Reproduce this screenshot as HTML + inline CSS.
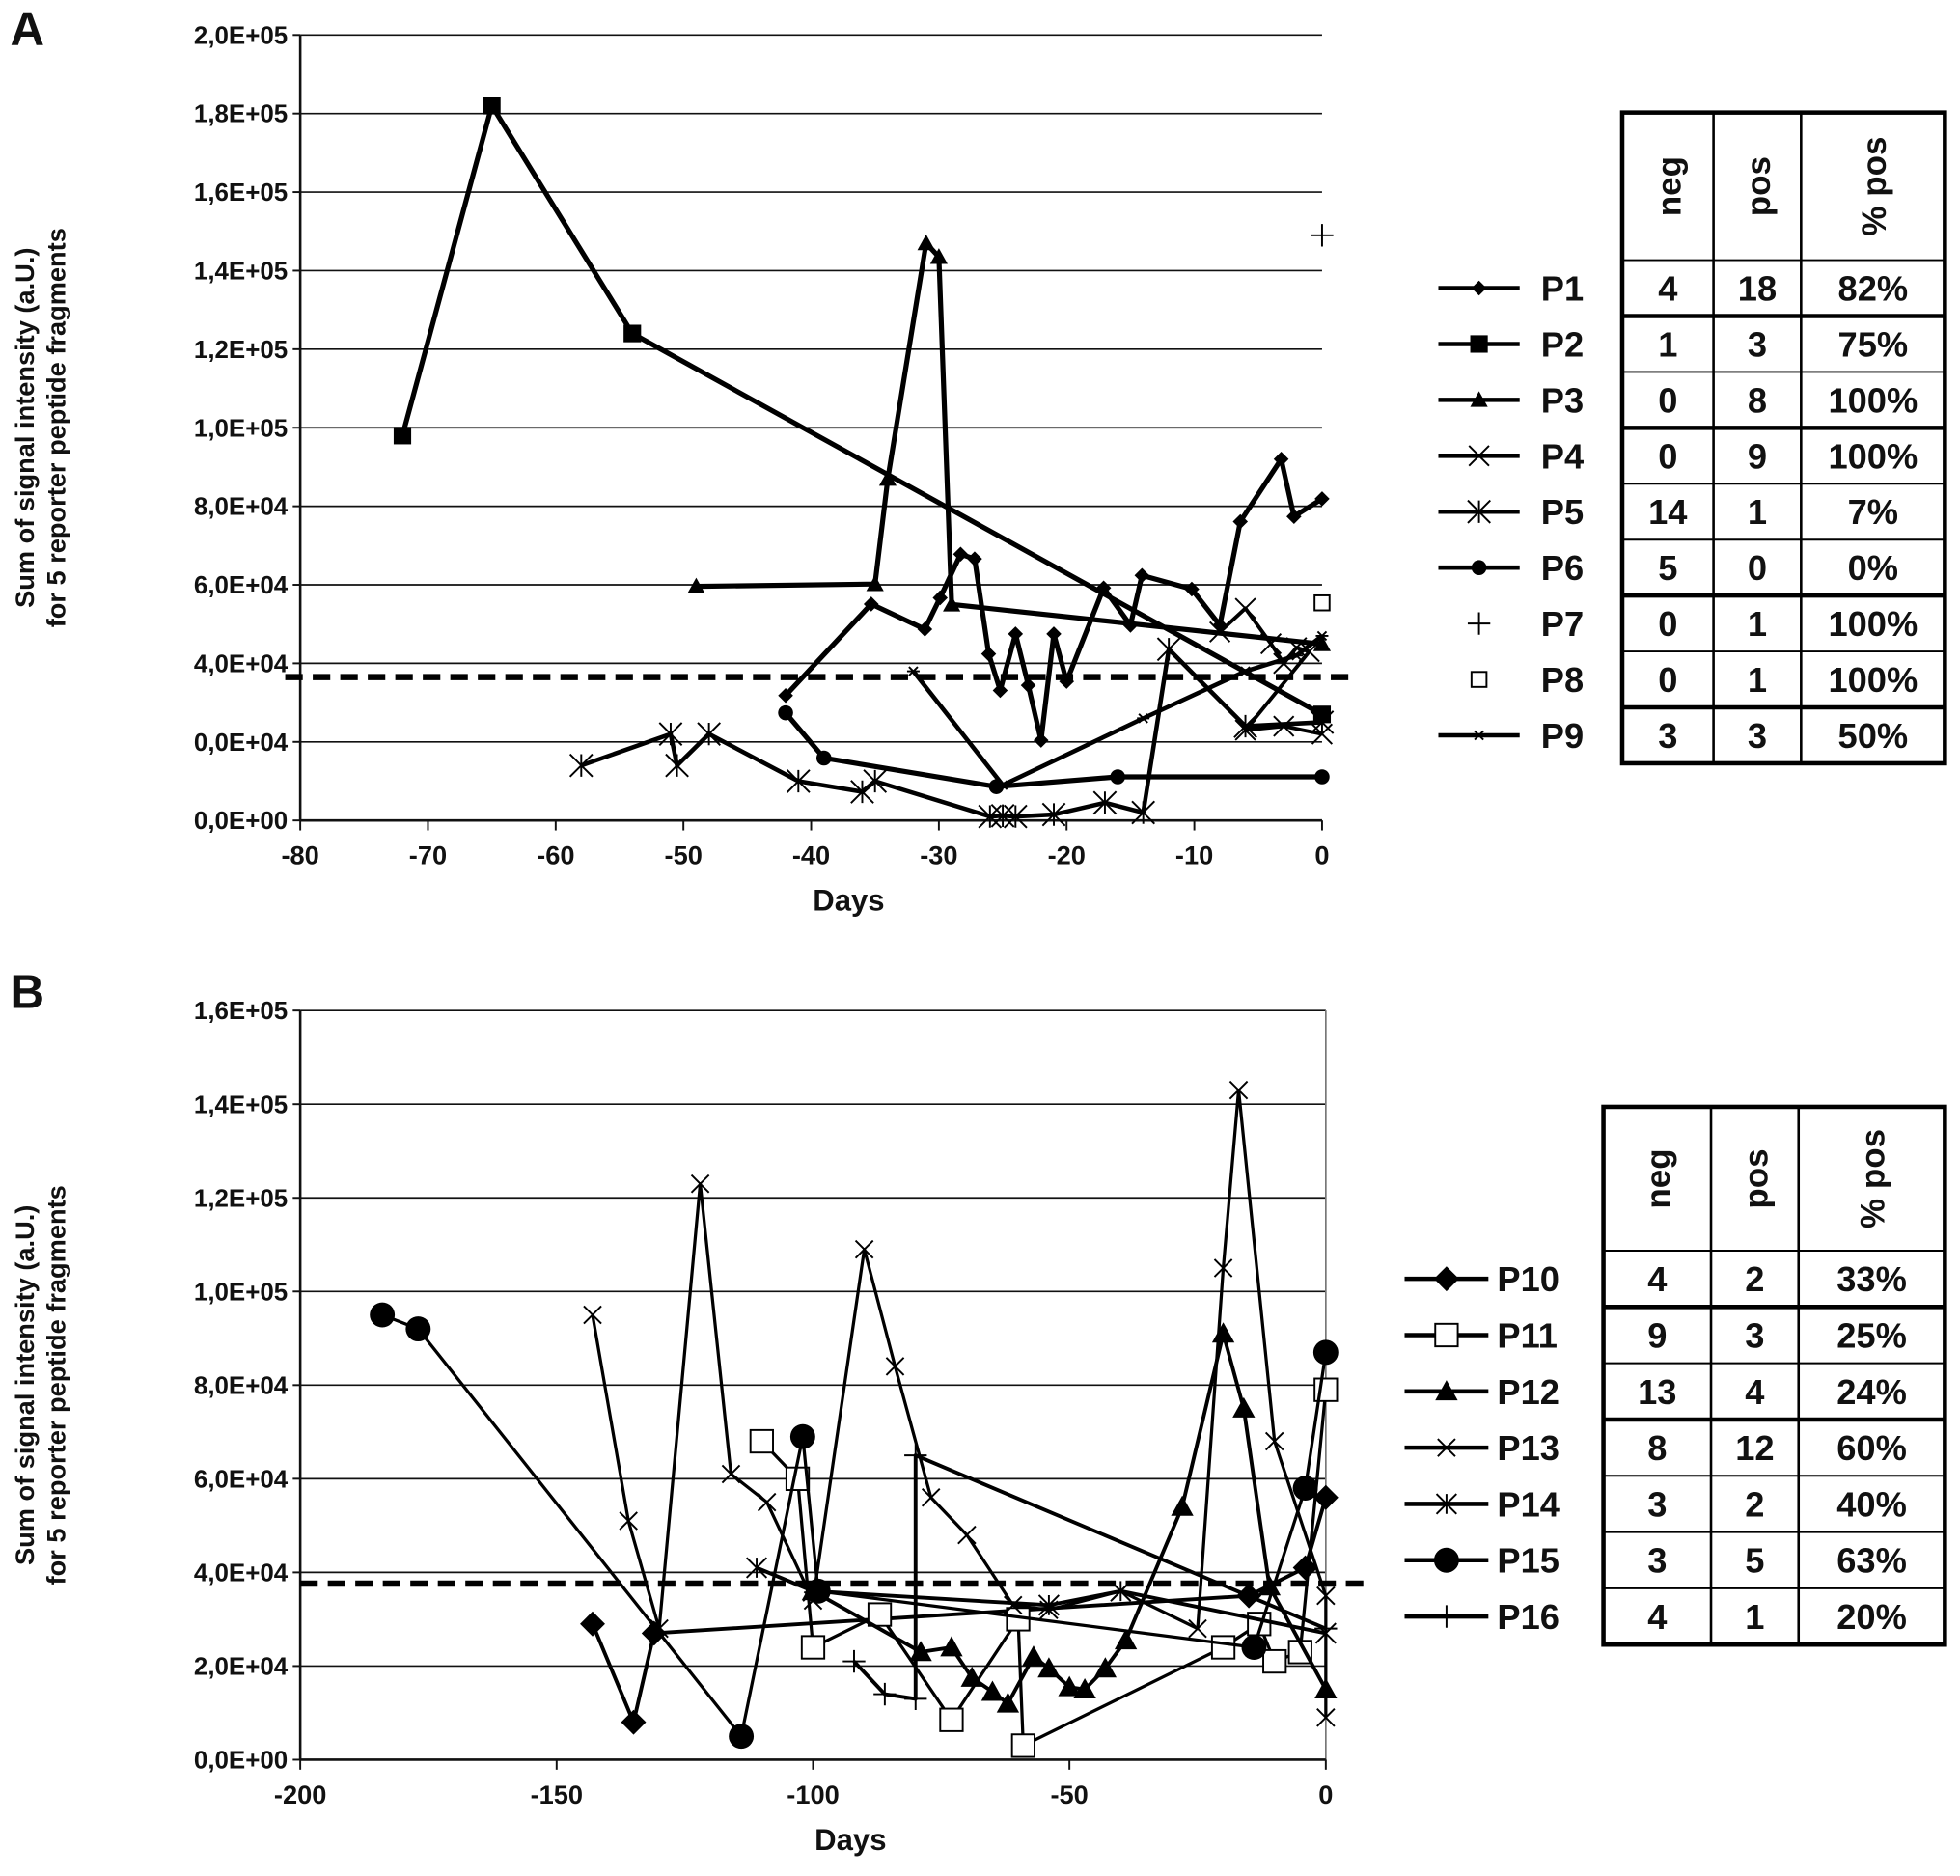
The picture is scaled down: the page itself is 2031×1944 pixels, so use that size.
<!DOCTYPE html>
<html><head><meta charset="utf-8"><style>
html,body{margin:0;padding:0;background:#fff}
svg{display:block}
text{font-family:"Liberation Sans",Arial,sans-serif;font-weight:bold;fill:#111}
</style></head><body>
<svg id="s" width="2031" height="1944" viewBox="0 0 1567 1500" xmlns="http://www.w3.org/2000/svg">
<g id="A"></g>
<g id="B"></g>
</svg>
<script>
// ---------- Panel A data ----------
const aTicksY = ["0,0E+00","0,0E+04","4,0E+04","6,0E+04","8,0E+04","1,0E+05","1,2E+05","1,4E+05","1,6E+05","1,8E+05","2,0E+05"];
const aTicksX = [-80,-70,-60,-50,-40,-30,-20,-10,0];
const aThreshold = 36500;
const p1Days = [-42,-35.3,-31.1,-29.9,-28.3,-27.2,-26.1,-25.2,-24,-23,-22,-21,-20,-17.1,-15,-14.1,-10.2,-8,-6.4,-3.2,-2.2,0];
const p1Vals = [31800,55100,48700,56700,67800,66600,42400,33100,47500,34400,20400,47500,35400,59200,49700,62400,58900,49700,76100,92000,77400,81900];
const p2Days = [-72,-65,-54,0];
const p2Vals = [98000,182000,124000,27000];
const p3Days = [-49,-35,-34,-31,-30,-29,0];
const p3Vals = [59600,60200,87000,147000,143500,55000,44900];
const p4Days = [-8,-6,-4,-3,-2,-1,-6,-3,0];
const p4Vals = [48000,54000,45000,40000,44000,43000,23000,24000,22000];
const p5Days = [-58,-51,-50.5,-48,-41,-36,-35,-26,-25,-24,-21,-17,-14,-12,-6,0];
const p5Vals = [14000,22000,14000,22000,10000,7300,10000,1000,1200,1000,1500,4500,2000,43600,24000,25000];
const p6Days = [-42,-39,-25.5,-16,0];
const p6Vals = [27400,15900,8600,11100,11100];
const p7Days = [0]; const p7Vals = [149000];
const p8Days = [0]; const p8Vals = [55400];
const p9Days = [-32,-25,-14,-6,-2,0];
const p9Vals = [38000,9000,26000,38000,42000,47000];
const aTable = [["P1",4,18,"82%"],["P2",1,3,"75%"],["P3",0,8,"100%"],["P4",0,9,"100%"],["P5",14,1,"7%"],["P6",5,0,"0%"],["P7",0,1,"100%"],["P8",0,1,"100%"],["P9",3,3,"50%"]];
// ---------- Panel B data ----------
const bTicksY = ["0,0E+00","2,0E+04","4,0E+04","6,0E+04","8,0E+04","1,0E+05","1,2E+05","1,4E+05","1,6E+05"];
const bTicksX = [-200,-150,-100,-50,0];
const bThreshold = 37600;
const p10Days = [-143,-135,-131,-15,-4,0];
const p10Vals = [29000,8000,27000,35000,41000,56000];
const p11Days = [-110,-103,-100,-87,-73,-60,-59,-20,-13,-10,-5,0];
const p11Vals = [68000,60000,24000,31000,8500,30000,3000,24000,29000,21000,23000,79000];
const p12Days = [-100,-79,-73,-69,-65,-62,-57,-54,-50,-47,-43,-39,-28,-20,-16,-11,0];
const p12Vals = [36000,23000,24000,17500,14500,12000,22000,19500,15500,15000,19500,25500,54000,91000,75000,37000,15000];
const p13Days = [-143,-136,-130,-122,-116,-109,-100,-90,-84,-77,-70,-61,-54,-40,-25,-20,-17,-10,0,0];
const p13Vals = [95000,51000,28000,123000,61000,55000,34000,109000,84000,56000,48000,33000,32000,36000,28000,105000,143000,68000,35000,9000];
const p14Days = [-111,-100,-54,-40,0];
const p14Vals = [41000,36000,33000,36000,27000];
const p15Days = [-184,-177,-114,-102,-99,-14,-4,0];
const p15Vals = [95000,92000,5000,69000,36000,24000,58000,87000];
const p16Days = [-92,-86,-80,-80,0];
const p16Vals = [21000,14000,13000,65000,28000];
const bTable = [["P10",4,2,"33%"],["P11",9,3,"25%"],["P12",13,4,"24%"],["P13",8,12,"60%"],["P14",3,2,"40%"],["P15",3,5,"63%"],["P16",4,1,"20%"]];

const NS="http://www.w3.org/2000/svg";
function mk(parent,tag,attrs,txt){const e=document.createElementNS(NS,tag);for(const k in attrs)e.setAttribute(k,attrs[k]);if(txt!==undefined)e.textContent=txt;parent.appendChild(e);return e;}

function marker(g,type,x,y,r){
  let e;
  if(type==="diamond") e=mk(g,"polygon",{points:`${x},${y-r} ${x+r},${y} ${x},${y+r} ${x-r},${y}`,fill:"#000"});
  else if(type==="square") e=mk(g,"rect",{x:x-r,y:y-r,width:2*r,height:2*r,fill:"#000"});
  else if(type==="osquare") e=mk(g,"rect",{x:x-r,y:y-r,width:2*r,height:2*r,fill:"#fff",stroke:"#000","stroke-width":1.5});
  else if(type==="triangle") e=mk(g,"polygon",{points:`${x},${y-r} ${x+r},${y+r*0.8} ${x-r},${y+r*0.8}`,fill:"#000"});
  else if(type==="circle") e=mk(g,"circle",{cx:x,cy:y,r:r,fill:"#000"});
  else if(type==="x") e=mk(g,"path",{d:`M${x-r},${y-r}L${x+r},${y+r}M${x-r},${y+r}L${x+r},${y-r}`,stroke:"#000","stroke-width":1.5});
  else if(type==="star") e=mk(g,"path",{d:`M${x-r},${y-r}L${x+r},${y+r}M${x-r},${y+r}L${x+r},${y-r}M${x},${y-r}L${x},${y+r}`,stroke:"#000","stroke-width":1.5});
  else if(type==="plus") e=mk(g,"path",{d:`M${x-r},${y}L${x+r},${y}M${x},${y-r}L${x},${y+r}`,stroke:"#000","stroke-width":1.5});
  else if(type==="small") e=mk(g,"path",{d:`M${x-r},${y}L${x+r},${y}M${x-r*0.7},${y-r*0.7}L${x+r*0.7},${y+r*0.7}M${x-r*0.7},${y+r*0.7}L${x+r*0.7},${y-r*0.7}`,stroke:"#000","stroke-width":1.5});
  
  
}

function panel(g,cfg){
  const X=d=>cfg.x0+(d-cfg.xmin)/(cfg.xmax-cfg.xmin)*(cfg.x1-cfg.x0);
  const Y=v=>cfg.y0-(v/cfg.ymax)*(cfg.y0-cfg.y1);
  const n=cfg.ticksY.length-1;
  cfg.ticksY.forEach((t,i)=>{
    const v=cfg.ymax*i/n, y=Y(v);
    if(i>0){const l=mk(g,"line",{x1:cfg.x0,x2:cfg.x1,y1:y,y2:y,stroke:"#111","stroke-width":1.3});
      }
    mk(g,"line",{x1:cfg.x0-6,x2:cfg.x0,y1:y,y2:y,stroke:"#111","stroke-width":1.5});
    const tx=mk(g,"text",{x:cfg.x0-10,y:y+7,"text-anchor":"end","font-size":20},t);
    
  });
  if(cfg.rightBorder) mk(g,"line",{x1:cfg.x1,x2:cfg.x1,y1:cfg.y1,y2:cfg.y0,stroke:"#777","stroke-width":1.3});
  mk(g,"line",{x1:cfg.x0,x2:cfg.x0,y1:cfg.y1,y2:cfg.y0,stroke:"#111","stroke-width":2});
  mk(g,"line",{x1:cfg.x0,x2:cfg.x1,y1:cfg.y0,y2:cfg.y0,stroke:"#111","stroke-width":2});
  cfg.ticksX.forEach(t=>{
    const x=X(t);
    mk(g,"line",{x1:x,x2:x,y1:cfg.y0,y2:cfg.y0+8,stroke:"#111","stroke-width":1.5});
    const tx=mk(g,"text",{x:x,y:cfg.y0+35,"text-anchor":"middle","font-size":21},String(t));
    
  });
  const xt=mk(g,"text",{x:(cfg.x0+cfg.x1)/2+30,y:cfg.y0+72,"text-anchor":"middle","font-size":24},"Days");
  
  const cy=(cfg.y0+cfg.y1)/2;
  const yt=mk(g,"text",{transform:`translate(27,${cy}) rotate(-90)`,"text-anchor":"middle","font-size":21});
  
  mk(yt,"tspan",{x:0,dy:0},"Sum of signal intensity (a.U.)");
  mk(yt,"tspan",{x:0,dy:25},"for 5 reporter peptide fragments");
  const th=mk(g,"line",{x1:cfg.dashX0,x2:cfg.dashX1,y1:Y(cfg.threshold),y2:Y(cfg.threshold),stroke:"#000","stroke-width":5,"stroke-dasharray":"14,8"});
  
  cfg.series.forEach(s=>{
    const sg=mk(g,"g",{});
    
    
    if(s.days.length>1){
      const pts=s.days.map((d,i)=>X(d)+","+Y(s.vals[i])).join(" ");
      mk(sg,"polyline",{points:pts,fill:"none",stroke:"#000","stroke-width":s.w||4,"stroke-linejoin":"round"});
    }
    s.days.forEach((d,i)=>marker(sg,s.m,X(d),Y(s.vals[i]),s.r));
  });
  const T=cfg.table, cols=T.cols, g2=mk(g,"g",{});
  
  const top=T.top, hh=T.head, rh=T.rowH, bot=top+hh+rh*cfg.rows.length;
  mk(g2,"rect",{x:cols[0],y:top,width:cols[3]-cols[0],height:bot-top,fill:"none",stroke:"#000","stroke-width":3.5});
  [cols[1],cols[2]].forEach(c=>mk(g2,"line",{x1:c,x2:c,y1:top,y2:bot,stroke:"#000","stroke-width":2}));
  ["neg","pos","% pos"].forEach((h,i)=>{
    const cx=(cols[i]+cols[i+1])/2;
    mk(g2,"text",{transform:`translate(${cx+10},${top+hh/2}) rotate(-90)`,"text-anchor":"middle","font-size":27},h);
  });
  cfg.rows.forEach((r,i)=>{
    const y=top+hh+rh*i;
    mk(g2,"line",{x1:cols[0],x2:cols[3],y1:y,y2:y,stroke:"#000","stroke-width":T.thick.includes(i)?3.5:1.5});
    const ty=y+rh/2+10;
    [r[1],r[2],r[3]].forEach((v,j)=>mk(g2,"text",{x:(cols[j]+cols[j+1])/2,y:ty,"text-anchor":"middle","font-size":28},String(v)));
    const s=cfg.series[i];
    const lg=mk(g2,"g",{});
    
    if(s.legendLine!==false) mk(lg,"line",{x1:T.lx0,x2:T.lx1,y1:y+rh/2,y2:y+rh/2,stroke:"#000","stroke-width":3.5});
    marker(lg,s.m,(T.lx0+T.lx1)/2,y+rh/2,s.r);
    mk(lg,"text",{x:T.lab,y:ty,"font-size":28},r[0]);
  });
}

panel(document.getElementById("A"),{
  x0:240,x1:1057,xmin:-80,xmax:0,y0:656,y1:28,ymax:200000,
  ticksY:aTicksY,ticksX:aTicksX,threshold:aThreshold,dashX0:228,dashX1:1085,
  series:[
    {name:"P1",days:p1Days,vals:p1Vals,m:"diamond",r:6},
    {name:"P2",days:p2Days,vals:p2Vals,m:"square",r:7},
    {name:"P3",days:p3Days,vals:p3Vals,m:"triangle",r:7},
    {name:"P4",days:p4Days,vals:p4Vals,m:"x",r:8,w:3},
    {name:"P5",days:p5Days,vals:p5Vals,m:"star",r:9,w:3.5},
    {name:"P6",days:p6Days,vals:p6Vals,m:"circle",r:6},
    {name:"P7",days:p7Days,vals:p7Vals,m:"plus",r:9,legendLine:false},
    {name:"P8",days:p8Days,vals:p8Vals,m:"osquare",r:6,legendLine:false},
    {name:"P9",days:p9Days,vals:p9Vals,m:"small",r:5,w:3.5}],
  rows:aTable,
  table:{cols:[1297,1370,1440,1555],top:90,head:118,rowH:44.7,thick:[1,3,6,8],lx0:1150,lx1:1215,lab:1232}
});
panel(document.getElementById("B"),{
  x0:240,x1:1060,xmin:-200,xmax:0,y0:1407,y1:808,ymax:160000,rightBorder:true,
  ticksY:bTicksY,ticksX:bTicksX,threshold:bThreshold,dashX0:240,dashX1:1098,
  series:[
    {name:"P10",days:p10Days,vals:p10Vals,m:"diamond",r:10,w:3},
    {name:"P11",days:p11Days,vals:p11Vals,m:"osquare",r:9,w:2.5},
    {name:"P12",days:p12Days,vals:p12Vals,m:"triangle",r:9,w:3},
    {name:"P13",days:p13Days,vals:p13Vals,m:"x",r:7,w:2.5},
    {name:"P14",days:p14Days,vals:p14Vals,m:"star",r:8,w:3},
    {name:"P15",days:p15Days,vals:p15Vals,m:"circle",r:10,w:2.5},
    {name:"P16",days:p16Days,vals:p16Vals,m:"plus",r:9,w:3}],
  rows:bTable,
  table:{cols:[1282,1368,1438,1555],top:885,head:115,rowH:45,thick:[1,3],lx0:1123,lx1:1190,lab:1197}
});
const lA=mk(document.getElementById("s"),"text",{x:8,y:36,"font-size":38,"font-weight":"normal"},"A");

const lB=mk(document.getElementById("s"),"text",{x:8,y:806,"font-size":38,"font-weight":"normal"},"B");

</script>
</body></html>
